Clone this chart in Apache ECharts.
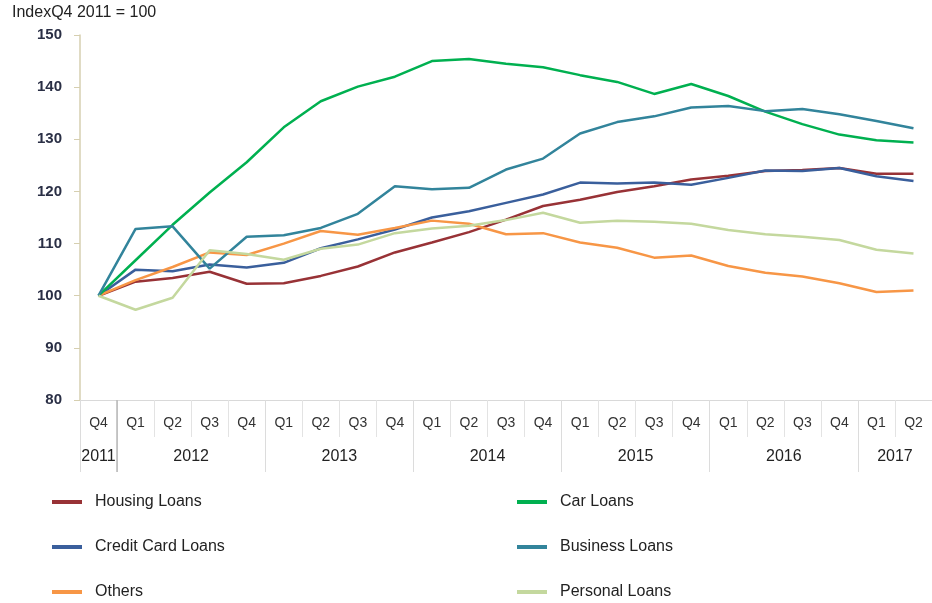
<!DOCTYPE html>
<html>
<head>
<meta charset="utf-8">
<script src="https://cdn.jsdelivr.net/npm/echarts@6.0.0/dist/echarts.min.js"></script>
<style>
html, body { margin: 0; padding: 0; background: #fff; }
#main { width: 932px; height: 603px; }
</style>
</head>
<body>
<div id="main"></div>
<script>
// quarters on the axis, Q4 2011 .. Q2 2017
var quarters = ['Q4', 'Q1', 'Q2', 'Q3', 'Q4', 'Q1', 'Q2', 'Q3', 'Q4', 'Q1', 'Q2', 'Q3', 'Q4',
    'Q1', 'Q2', 'Q3', 'Q4', 'Q1', 'Q2', 'Q3', 'Q4', 'Q1', 'Q2'];
var years = ['2011', '2012', '2013', '2014', '2015', '2016', '2017'];
var yearSpans = [1, 4, 4, 4, 4, 4, 2];
var yTicks = [80, 90, 100, 110, 120, 130, 140, 150];

// index values, Q4 2011 = 100
var housingLoans = [100, 102.7, 103.4, 104.6, 102.3, 102.4, 103.8, 105.6, 108.3, 110.2, 112.2, 114.6,
    117.2, 118.4, 119.9, 121, 122.3, 123, 123.9, 124.1, 124.5, 123.4, 123.4];
var creditCardLoans = [100, 105, 104.7, 106, 105.4, 106.3, 109.1, 110.8, 112.7, 115, 116.2, 117.8,
    119.4, 121.7, 121.5, 121.7, 121.3, 122.6, 124, 123.9, 124.5, 122.9, 122];
var others = [100, 103, 105.5, 108.3, 107.8, 110, 112.4, 111.7, 113, 114.4, 113.8, 111.8,
    112, 110.2, 109.2, 107.3, 107.7, 105.7, 104.4, 103.7, 102.4, 100.7, 101];
var carLoans = [100, 106.8, 113.6, 119.8, 125.6, 132.3, 137.3, 140.1, 142, 145, 145.4, 144.5,
    143.8, 142.3, 141, 138.7, 140.6, 138.3, 135.3, 132.9, 130.9, 129.8, 129.4];
var businessLoans = [100, 112.8, 113.3, 105.2, 111.3, 111.6, 113, 115.7, 121, 120.4, 120.7, 124.2,
    126.3, 131.1, 133.3, 134.4, 136.1, 136.4, 135.4, 135.8, 134.8, 133.5, 132.1];
var personalLoans = [100, 97.3, 99.6, 108.7, 108, 106.9, 109, 109.8, 112, 112.9, 113.4, 114.5,
    115.9, 114, 114.4, 114.2, 113.8, 112.6, 111.8, 111.3, 110.7, 108.8, 108.1];

// year bands: boundaries and label centres in category units
var yearBounds = [];
var yearCenters = [];
var pos = -0.5;
for (var i = 0; i < years.length; i++) {
    yearBounds.push(pos);
    yearCenters.push(pos + yearSpans[i] / 2);
    pos += yearSpans[i];
}
yearBounds.push(pos);

var font = 'Liberation Sans, Arial, sans-serif';

function line(name, data, color) {
    return {
        name: name,
        type: 'line',
        data: data,
        showSymbol: false,
        symbol: 'none',
        lineStyle: { width: 2.5, color: color },
        itemStyle: { color: color },
        animation: false
    };
}

function legendCol(left, names) {
    return {
        orient: 'vertical',
        left: left,
        top: 494,
        height: 109,
        padding: 0,
        itemWidth: 30,
        itemHeight: 4,
        itemGap: 29,
        icon: 'rect',
        data: names,
        textStyle: { fontFamily: font, fontSize: 16, color: '#222', padding: [0, 0, 0, 8] }
    };
}

var chart = echarts.init(document.getElementById('main'));

var option = {
    backgroundColor: '#fff',
    animation: false,
    title: {
        text: 'IndexQ4 2011 = 100',
        left: 12,
        top: 5,
        padding: 0,
        textStyle: { fontFamily: font, fontSize: 16, fontWeight: 'normal', color: '#222' }
    },
    legend: [
        legendCol(52, ['Housing Loans', 'Credit Card Loans', 'Others']),
        legendCol(517, ['Car Loans', 'Business Loans', 'Personal Loans'])
    ],
    grid: { left: 80, top: 35, width: 860, height: 365, containLabel: false },
    xAxis: [{
        type: 'category',
        data: quarters,
        boundaryGap: true,
        axisLine: { lineStyle: { color: '#d9d9d9', width: 1 } },
        axisTick: { show: true, interval: 0, length: 37, lineStyle: { color: '#e3e3e3' } },
        axisLabel: { interval: 0, margin: 16, fontFamily: font, fontSize: 14, color: '#333' },
        splitLine: { show: false }
    }, {
        type: 'value',
        position: 'bottom',
        min: -0.5,
        max: 22.5,
        axisLine: { show: false },
        splitLine: { show: false },
        axisTick: { show: true, length: 72, customValues: yearBounds, lineStyle: { color: '#dcdcdc' } },
        axisLabel: {
            margin: 49,
            fontFamily: font,
            fontSize: 16,
            color: '#222',
            customValues: yearCenters,
            formatter: function (v) {
                for (var k = 0; k < yearCenters.length; k++) {
                    if (Math.abs(yearCenters[k] - v) < 0.01) return years[k];
                }
                return '';
            }
        }
    }, {
        type: 'value',
        position: 'bottom',
        min: -0.5,
        max: 22.5,
        axisLine: { show: false },
        splitLine: { show: false },
        axisTick: { show: true, length: 72, customValues: [0.5], lineStyle: { color: '#b8b8b8', width: 1.5 } },
        axisLabel: { show: false }
    }],
    yAxis: {
        type: 'value',
        min: yTicks[0],
        max: yTicks[yTicks.length - 1],
        interval: 10,
        axisLine: { show: true, onZero: false, lineStyle: { color: '#d6cfb0', width: 1.5 } },
        axisTick: { show: true, length: 6, lineStyle: { color: '#d6cfb0' } },
        axisLabel: { margin: 18, fontFamily: font, fontSize: 15, fontWeight: 'bold', color: '#2a2f45' },
        splitLine: { show: false }
    },
    series: [
        line('Housing Loans', housingLoans, '#983236'),
        line('Credit Card Loans', creditCardLoans, '#3a5f9c'),
        line('Others', others, '#f79646'),
        line('Car Loans', carLoans, '#00b050'),
        line('Business Loans', businessLoans, '#32849b'),
        line('Personal Loans', personalLoans, '#c4d89e')
    ]
};

chart.setOption(option);
</script>
</body>
</html>
